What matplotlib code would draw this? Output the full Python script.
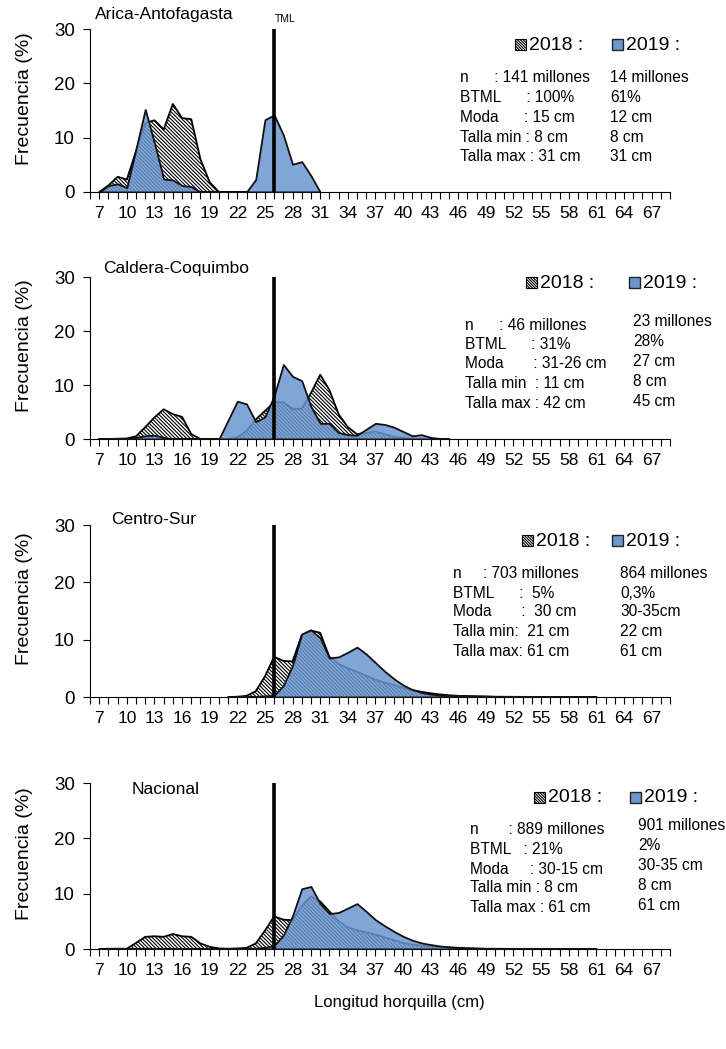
import matplotlib
matplotlib.use("Agg")
import matplotlib.pyplot as plt
from matplotlib.patches import Rectangle

plt.rcParams['font.family'] = ['Liberation Sans', 'DejaVu Sans']
plt.rcParams['hatch.linewidth'] = 0.8

# --- data ---
zonas = ["Arica-Antofagasta", "Caldera-Coquimbo", "Centro-Sur", "Nacional"]

tallas_1 = list(range(7, 32))
frec18_1 = [0, 1.2, 2.8, 2.3, 7.5, 12.7, 13.2, 11.5, 16.2, 13.6, 13.4, 6.0, 1.8, 0,
            0, 0, 0, 0, 0, 0, 0, 0, 0, 0, 0]
frec19_1 = [0, 1.2, 1.5, 0.8, 8.0, 15.2, 9.0, 2.4, 2.2, 1.2, 1.0, 0, 0, 0,
            0, 0, 0, 2.3, 13.3, 14.2, 10.5, 5.1, 5.6, 3.0, 0]

tallas_2 = list(range(7, 46))
frec18_2 = [0, 0, 0.05, 0.1, 0.5, 2.2, 4.0, 5.5, 4.6, 4.1, 0.9, 0, 0, 0, 0, 0.3, 1.5,
            3.6, 5.2, 6.8, 6.8, 5.6, 5.6, 8.5, 11.9, 9.1, 4.6, 2.2, 0.9, 1.1, 1.4,
            0.9, 0.4, 0.2, 0.1, 0.05, 0, 0, 0]
frec19_2 = [0, 0, 0.05, 0.1, 0.3, 0.6, 0.7, 0.3, 0, 0, 0, 0, 0, 0, 3.5, 7.0, 6.5,
            3.2, 4.1, 8.0, 13.8, 11.6, 10.8, 6.0, 2.9, 2.9, 1.2, 0.8, 0.7, 1.8, 2.9,
            2.7, 2.2, 1.4, 0.6, 0.8, 0.3, 0.1, 0.05]

tallas_3 = list(range(21, 62))
frec18_3 = [0, 0.05, 0.2, 1.0, 3.6, 7.0, 6.3, 6.2, 10.8, 11.6, 11.2, 7.0, 5.8, 5.0,
            4.4, 3.7, 3.0, 2.5, 2.1, 1.6, 1.2, 0.9, 0.65, 0.45, 0.3, 0.2, 0.15, 0.1,
            0.08, 0.05, 0.04, 0.03, 0.02, 0.02, 0.01, 0.01, 0, 0, 0, 0, 0]
frec19_3 = [0, 0.02, 0.05, 0.1, 0.2, 0.3, 2.0, 5.5, 11.0, 11.7, 10.3, 6.8, 7.0, 7.8,
            8.7, 7.5, 6.0, 4.5, 3.2, 2.1, 1.3, 0.8, 0.5, 0.35, 0.3, 0.25, 0.2, 0.2,
            0.15, 0.1, 0.08, 0.06, 0.05, 0.04, 0.03, 0.03, 0.02, 0.02, 0.02, 0.02, 0.02]

tallas_4 = list(range(7, 62))
frec18_4 = [0, 0.05, 0.05, 0.05, 1.1, 2.2, 2.3, 2.2, 2.7, 2.3, 2.2, 1.0, 0.4, 0.1,
            0.05, 0.1, 0.2, 1.0, 3.3, 5.9, 5.3, 5.2, 7.8, 9.5, 8.6, 6.8, 5.0, 3.9,
            3.4, 3.0, 2.6, 2.1, 1.6, 1.1, 0.8, 0.6, 0.45, 0.35, 0.25, 0.15, 0.1,
            0.08, 0.05, 0.04, 0.03, 0.02, 0.02, 0.01, 0.01, 0.01, 0, 0, 0, 0, 0]
frec19_4 = [0, 0.02, 0.03, 0.05, 0.1, 0.15, 0.1, 0.05, 0.05, 0.03, 0.02, 0.02, 0.02,
            0.02, 0.05, 0.1, 0.1, 0.15, 0.3, 0.6, 2.5, 6.0, 10.9, 11.3, 8.2, 6.4, 6.6,
            7.4, 8.2, 6.8, 5.3, 4.2, 3.2, 2.3, 1.6, 1.1, 0.8, 0.55, 0.4, 0.3, 0.22,
            0.15, 0.1, 0.08, 0.06, 0.05, 0.04, 0.03, 0.03, 0.02, 0.02, 0.02, 0.02,
            0.02, 0.02]

tml = 26
x_labels = list(range(7, 68, 3))

stats18_1 = ["n      : 141 millones", "BTML      : 100%", "Moda      : 15 cm",
             "Talla min : 8 cm", "Talla max : 31 cm"]
stats19_1 = ["14 millones", "61%", "12 cm", "8 cm", "31 cm"]
stats18_2 = ["n      : 46 millones", "BTML      : 31%", "Moda       : 31-26 cm",
             "Talla min  : 11 cm", "Talla max : 42 cm"]
stats19_2 = ["23 millones", "28%", "27 cm", "8 cm", "45 cm"]
stats18_3 = ["n     : 703 millones", "BTML      :  5%", "Moda       :  30 cm",
             "Talla min:  21 cm", "Talla max: 61 cm"]
stats19_3 = ["864 millones", "0,3%", "30-35cm", "22 cm", "61 cm"]
stats18_4 = ["n       : 889 millones", "BTML   : 21%", "Moda     : 30-15 cm",
             "Talla min : 8 cm", "Talla max : 61 cm"]
stats19_4 = ["901 millones", "2%", "30-35 cm", "8 cm", "61 cm"]

# --- layout (pixels in a 726x1049 canvas) ---
W, H = 726, 1049
BLUE = (0.42, 0.59, 0.81, 0.85)
HATCH = '\\' * 9

fig = plt.figure(figsize=(W / 100, H / 100), dpi=100)


def fx(x):
    return x / W


def fy(y):
    return 1 - y / H


def text_px(x, y, s, **kw):
    fig.text(fx(x), fy(y), s, **kw)


def square_px(x, y, size, **kw):
    fig.patches.append(Rectangle((fx(x), fy(y + size)), size / W, size / H,
                                 transform=fig.transFigure, figure=fig, **kw))


def draw_panel(top, bottom, tallas, f18, f19):
    ax = fig.add_axes([fx(90), fy(bottom), fx(580), (bottom - top) / H])
    ax.fill_between(tallas, f18, facecolor='white', edgecolor='black',
                    hatch=HATCH, linewidth=1.3, zorder=2)
    ax.fill_between(tallas, f19, facecolor=BLUE, edgecolor='#111111',
                    linewidth=1.3, zorder=3)
    ax.plot([tml, tml], [0, 30], color='black', lw=2.6, zorder=5)
    ax.set_xlim(6.16, 68.9)
    ax.set_ylim(0, 30)
    ax.set_yticks([0, 10, 20, 30])
    ax.set_xticks(range(6, 70))
    ax.set_xticklabels([str(t) if t in x_labels else '' for t in range(6, 70)])
    ax.tick_params(axis='x', direction='out', length=5, width=0.8, pad=5,
                   labelsize=12.5)
    ax.tick_params(axis='y', direction='out', length=5, width=0.8, pad=6,
                   labelsize=13.5)
    for s in ['top', 'right']:
        ax.spines[s].set_visible(False)
    for s in ['left', 'bottom']:
        ax.spines[s].set_linewidth(0.8)
    ax.set_ylabel('Frecuencia (%)', fontsize=14)
    h = bottom - top
    ax.yaxis.set_label_coords(-(90 - 33) / 580, 0.5 + 12 / h)
    return ax


def draw_legend(y, x18, x19):
    square_px(x18, y - 6, 11, facecolor='white', edgecolor='black',
              hatch='\\' * 12, linewidth=0.8)
    text_px(x18 + 14, y, '2018 :', fontsize=14, va='center')
    square_px(x19, y - 6, 11, facecolor=BLUE[:3], edgecolor='#222222',
              linewidth=1.0)
    text_px(x19 + 14, y, '2019 :', fontsize=14, va='center')


def draw_stats(x18, ys18, lines18, x19, ys19, lines19):
    for y, s in zip(ys18, lines18):
        text_px(x18, y, s, fontsize=11.2, va='center')
    for y, s in zip(ys19, lines19):
        text_px(x19, y, s, fontsize=11.2, va='center')


# panel 1
draw_panel(29, 192, tallas_1, frec18_1, frec19_1)
text_px(95, 14, zonas[0], fontsize=12.5, va='center')
text_px(285, 19, 'TML', fontsize=7.5, va='center', ha='center')
draw_legend(45, 515, 612)
draw_stats(460, [78, 98, 117, 137, 157], stats18_1,
           610, [78, 98, 117, 137, 157], stats19_1)

# panel 2
draw_panel(277, 439, tallas_2, frec18_2, frec19_2)
text_px(103, 268, zonas[1], fontsize=12.5, va='center')
draw_legend(283, 526, 629)
draw_stats(465, [326, 345, 364, 384, 403], stats18_2,
           633, [321, 341, 361, 381, 401], stats19_2)

# panel 3
draw_panel(525, 697, tallas_3, frec18_3, frec19_3)
text_px(111, 519, zonas[2], fontsize=12.5, va='center')
draw_legend(541, 522, 612)
draw_stats(453, [573, 593, 612, 632, 652], stats18_3,
           620, [573, 593, 612, 632, 652], stats19_3)

# panel 4
draw_panel(783, 949, tallas_4, frec18_4, frec19_4)
text_px(132, 790, zonas[3], fontsize=12.5, va='center')
draw_legend(798, 534, 630)
draw_stats(470, [830, 849, 869, 888, 908], stats18_4,
           638, [826, 845, 865, 885, 905], stats19_4)

text_px(399, 1003, 'Longitud horquilla (cm)', fontsize=12, ha='center',
        va='center')

fig.savefig('out.png', dpi=100)
